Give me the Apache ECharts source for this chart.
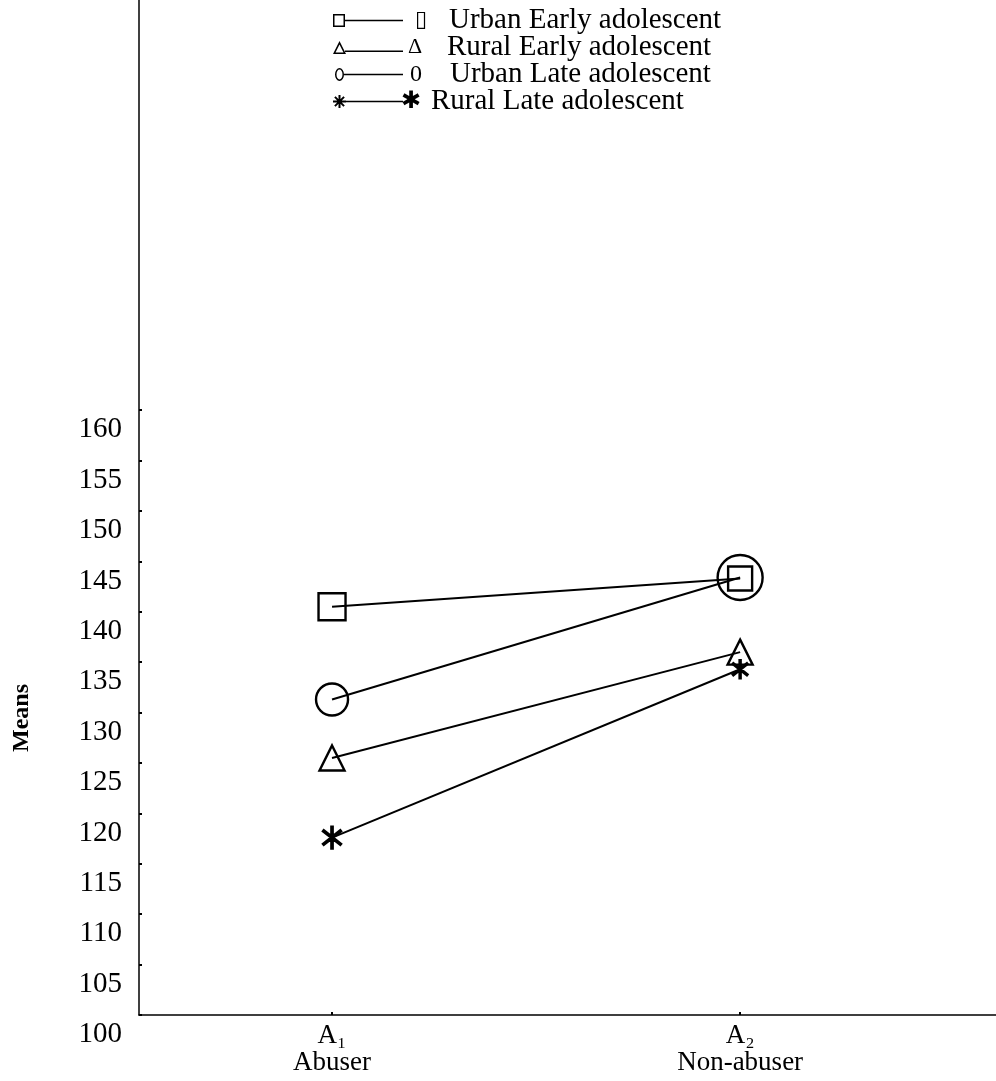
<!DOCTYPE html>
<html><head><meta charset="utf-8">
<script src="https://cdn.jsdelivr.net/npm/echarts@6/dist/echarts.min.js"></script>
<style>html,body{margin:0;padding:0;background:#fff}#c{width:996px;height:1081px}</style>
</head><body><div id="c"></div>
<script>
// ---- data ----
const groupCodes = ['A₁', 'A₂'];
const groupNames = ['Abuser', 'Non-abuser'];
const seriesNames = ['Urban Early adolescent', 'Rural Early adolescent', 'Urban Late adolescent', 'Rural Late adolescent'];
const urbanEarly = [140.5, 143.3];
const ruralEarly = [125.5, 136.0];
const urbanLate = [131.3, 143.4];
const ruralLate = [117.6, 134.3];
const yTickValues = [100, 105, 110, 115, 120, 125, 130, 135, 140, 145, 150, 155, 160];
const xPositions = [1, 2];

// ---- helpers (styling only) ----
function barsPath(cx, cy, L, t, angles) {
  return angles.map(a => {
    const r = a * Math.PI / 180, dx = Math.cos(r), dy = Math.sin(r), nx = -dy, ny = dx;
    const p = [[cx - L*dx - t*nx, cy - L*dy - t*ny], [cx + L*dx - t*nx, cy + L*dy - t*ny],
               [cx + L*dx + t*nx, cy + L*dy + t*ny], [cx - L*dx + t*nx, cy - L*dy + t*ny]];
    return 'M' + p.map(q => q[0].toFixed(2) + ' ' + q[1].toFixed(2)).join(' L') + ' Z';
  }).join(' ');
}
const starPlot = 'path://' + barsPath(10, 10, 10, 0.6, [90, 38, 142]);
const iconSquare = 'path://M0 0 L12 0 L12 13 L0 13 Z M1.5 1.5 L1.5 11.5 L10.5 11.5 L10.5 1.5 Z M12 5.8 L70 5.8 L70 7.2 L12 7.2 Z';
const iconTri = 'path://M6.5 0 L13 13 L0 13 Z M6.5 3.6 L2.5 11.6 L10.5 11.6 Z M12 9.6 L70 9.6 L70 11 L12 11 Z';
const iconZero = 'path://M2 6.5 A4.5 6.5 0 1 1 11 6.5 A4.5 6.5 0 1 1 2 6.5 Z M3.5 6.5 A3 5 0 1 0 9.5 6.5 A3 5 0 1 0 3.5 6.5 Z M11 5.8 L70 5.8 L70 7.2 L11 7.2 Z M0 6.5 L0.01 6.5 L0.01 6.51 Z';
const iconStar = 'path://' + barsPath(6.5, 6.5, 6.5, 1.0, [0, 45, 90, 135]) + ' M12 5.8 L70 5.8 L70 7.2 L12 7.2 Z';

const FONT = 'Liberation Serif';
const black = '#000';

function mk(name, vals, symbol, sizes) {
  return {
    name: name, type: 'line',
    data: vals.map((v, i) => ({ value: [xPositions[i], v], symbolSize: sizes[i] })),
    symbol: symbol, symbolKeepAspect: true,
    lineStyle: { color: black, width: 2 },
    itemStyle: { color: 'rgba(0,0,0,0)', borderColor: black, borderWidth: 2.4 },
    emphasis: { disabled: true }, silent: true, animation: false
  };
}

const chart = echarts.init(document.getElementById('c'), null, { renderer: 'canvas' });
chart.setOption({
  backgroundColor: '#fff',
  animation: false,
  grid: { left: 139, right: 0, top: 0, bottom: 66, containLabel: false },
  legend: {
    orient: 'vertical', left: 333, top: 6, padding: 0, itemGap: -2,
    itemWidth: 70, itemHeight: 13,
    selectedMode: false,
    itemStyle: { color: black, borderWidth: 0 },
    data: [
      { name: seriesNames[0], icon: iconSquare },
      { name: seriesNames[1], icon: iconTri },
      { name: seriesNames[2], icon: iconZero },
      { name: seriesNames[3], icon: iconStar }
    ],
    formatter: function (name) {
      const i = seriesNames.indexOf(name);
      const syms = ['▯', 'Δ', '0', '✱'];
      return '{s' + i + '|' + syms[i] + '}{t|' + name + '}';
    },
    textStyle: {
      color: black, fontFamily: FONT, fontSize: 29, lineHeight: 26,
      rich: {
        s0: { width: 34, fontFamily: 'DejaVu Sans', fontSize: 22, color: black, padding: [0, 0, 0, 7] },
        s1: { width: 39, fontFamily: FONT, fontSize: 22, color: black },
        s2: { width: 40, fontFamily: FONT, fontSize: 24, color: black, padding: [0, 0, 0, 2] },
        s3: { width: 30, fontFamily: 'DejaVu Sans', fontSize: 24, color: black, padding: [0, 0, 0, -7] },
        t: { fontFamily: FONT, fontSize: 29, color: black, lineHeight: 26 }
      }
    }
  },
  xAxis: {
    type: 'value', min: 0.527, max: 2.627,
    axisLine: { show: true, onZero: false, lineStyle: { color: black, width: 1.5 } },
    splitLine: { show: false },
    axisTick: { show: true, customValues: xPositions, inside: true, length: 3, lineStyle: { color: black, width: 2 } },
    axisLabel: {
      customValues: xPositions, margin: 7, color: black, fontFamily: FONT, fontSize: 27, lineHeight: 27,
      formatter: function (v) {
        const i = xPositions.indexOf(v);
        return i < 0 ? '' : groupCodes[i] + '\n' + groupNames[i];
      }
    }
  },
  yAxis: {
    type: 'value', min: 100, max: 200.7, interval: 5,
    axisLine: { show: true, onZero: false, lineStyle: { color: black, width: 1.5 } },
    splitLine: { show: false },
    axisTick: { show: true, customValues: yTickValues, inside: true, length: 3, lineStyle: { color: black, width: 2 } },
    axisLabel: {
      customValues: yTickValues, margin: 17, color: black, fontFamily: FONT, fontSize: 29, lineHeight: 29,
      verticalAlign: 'top', padding: [5, 0, 0, 0]
    }
  },
  graphic: [{
    type: 'text', x: 22, y: 718, rotation: Math.PI / 2,
    style: { text: 'Means', font: 'bold 24px "Liberation Serif"', fill: black, align: 'center', verticalAlign: 'middle' }
  }],
  series: [
    mk(seriesNames[0], urbanEarly, 'rect', [27, 24]),
    mk(seriesNames[1], ruralEarly, 'triangle', [25, 25]),
    mk(seriesNames[2], urbanLate, 'circle', [32, 45]),
    mk(seriesNames[3], ruralLate, starPlot, [22, 18])
  ]
});
</script></body></html>
